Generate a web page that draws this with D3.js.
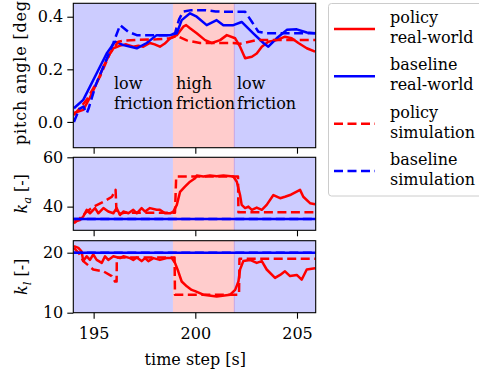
<!DOCTYPE html>
<html>
<head>
<meta charset="utf-8">
<script src="https://cdn.jsdelivr.net/npm/d3@7"></script>
<style>
  html, body { margin: 0; padding: 0; background: #fff; }
  svg { display: block; }
  svg text { font-family: "DejaVu Serif", serif; fill: #000; }
</style>
</head>
<body>
<svg id="chart" width="479" height="374"></svg>
<script>
// ---- data -------------------------------------------------------------
const xTicks = [195, 200, 205];
const frictionSpans = [
  { from: 194.0, to: 198.9, kind: "low" },
  { from: 198.9, to: 201.92, kind: "high" },
  { from: 201.92, to: 205.92, kind: "low" }
];
const frictionLabels = [
  { t: 196.0, lines: ["low", "friction"] },
  { t: 199.05, lines: ["high", "friction"] },
  { t: 202.05, lines: ["low", "friction"] }
];

// pitch angle [deg]
const pitchPolicyRealT = [194.03,194.49,194.8,195.15,195.48,195.8,195.97,196.3,196.6,196.95,197.2,197.44,197.77,198.0,198.26,198.5,198.76,199.09,199.41,199.55,199.74,200.07,200.48,200.81,201.22,201.55,201.96,202.2,202.45,202.78,203.02,203.27,203.59,204.0,204.41,204.74,205.07,205.48,205.89];
const pitchPolicyRealV = [0.034,0.046,0.09,0.147,0.21,0.26,0.28,0.29,0.295,0.286,0.29,0.286,0.30,0.295,0.286,0.298,0.318,0.33,0.362,0.368,0.356,0.337,0.311,0.30,0.311,0.33,0.318,0.286,0.242,0.248,0.26,0.286,0.305,0.311,0.324,0.318,0.30,0.28,0.267];

const pitchBaselineRealT = [194.03,194.49,195.15,195.64,196.05,196.46,197.12,197.61,198.1,198.76,199.09,199.33,199.74,200.07,200.56,201.05,201.38,201.87,202.28,202.85,203.35,203.59,204.0,204.5,204.99,205.48,205.89];
const pitchBaselineRealV = [0.052,0.084,0.185,0.26,0.305,0.292,0.28,0.30,0.33,0.33,0.337,0.387,0.413,0.40,0.368,0.387,0.368,0.368,0.38,0.337,0.30,0.286,0.318,0.35,0.352,0.34,0.337];

const pitchPolicySimT = [194.03,194.66,195.31,195.8,196.21,196.46,197.12,198.1,198.76,199.09,199.58,200.23,201.87,202.2,203.02,205.92];
const pitchPolicySimV = [0.026,0.084,0.172,0.26,0.305,0.309,0.312,0.314,0.318,0.327,0.31,0.30,0.30,0.297,0.311,0.311];

const pitchBaselineSimT = [194.03,194.3,194.5,194.66,194.75,195.1,195.48,195.97,196.3,196.7,197.12,198.76,199.0,199.2,199.4,199.8,200.5,201.0,201.5,202.45,202.78,203.1,203.5,205.92];
const pitchBaselineSimV = [0.0,0.05,0.058,0.033,0.05,0.14,0.21,0.30,0.368,0.343,0.33,0.33,0.337,0.39,0.419,0.425,0.425,0.42,0.419,0.419,0.381,0.343,0.337,0.337];

// k_a [-]
const kaPolicyRealT = [194.03,194.33,194.49,194.66,194.82,195.07,195.23,195.48,195.72,195.97,196.13,196.3,196.46,196.71,196.95,197.12,197.36,197.53,197.77,198.1,198.26,198.51,198.76,198.92,199.09,199.25,199.49,199.74,199.99,200.07,200.4,200.72,201.05,201.38,201.87,202.04,202.2,202.28,202.45,202.61,202.78,203.02,203.27,203.51,203.84,204.17,204.41,204.66,204.82,205.15,205.31,205.64,205.89];
const kaPolicyRealV = [33.9,34.6,36,38.7,37.3,39.4,37.3,39.4,38,37.3,39.4,36.6,38,37.3,38.7,37.3,39.4,38,39.4,38.7,38.7,37.3,37.3,38,40.7,46,48.1,50.1,51.5,52.6,52.2,52.6,52.3,52.6,52.2,50.1,44.7,40.7,39.4,40,38.7,39.6,38.7,40.7,44.7,43.4,44,44.7,45.4,46.8,44,41.4,41];

const kaBaselineRealT = [194.0, 205.92];
const kaBaselineRealV = [35.0, 35.0];

const kaPolicySimT = [194.03,194.3,194.6,195.0,195.5,195.9,196.08,196.13,196.5,197.5,199.0,199.06,202.1,202.12,205.92];
const kaPolicySimV = [33.3,35,37.5,40,42,44,46.8,36.8,37.5,37.5,37.5,52.2,52.2,37.7,37.7];

const kaBaselineSimT = [194.0, 205.92];
const kaBaselineSimV = [35.0, 35.0];

// k_l [-]
const klPolicyRealT = [194.03,194.25,194.41,194.49,194.66,194.82,194.98,195.15,195.4,195.56,195.72,195.97,196.3,196.46,196.79,196.95,197.12,197.36,197.53,197.69,197.94,198.26,198.59,198.84,199.0,199.16,199.33,199.58,199.82,199.99,200.39,201.05,201.71,201.96,202.12,202.2,202.36,202.69,203.02,203.27,203.51,203.92,204.17,204.41,204.66,204.99,205.23,205.48,205.89];
const klPolicyRealV = [21.1,20.8,20.2,18.6,19.4,18.8,19.7,18.8,18.3,19.4,18.8,19.4,19.1,19.4,19.1,18.8,19.2,18.6,19.1,18.6,19.1,18.8,19.1,19.1,18.3,16.9,15.2,14.4,13.8,13.6,13.0,12.7,13.0,13.8,15.2,17.2,18.6,18.8,18.3,18.6,17.2,15.8,16.3,16.9,16.1,16.3,15.5,17.2,17.4];

const klBaselineRealT = [194.0, 205.92];
const klBaselineRealV = [20.0, 20.0];

const klPolicySimT = [194.03,194.3,194.49,194.98,195.48,195.89,196.05,196.13,196.14,198.98,199.0,202.15,202.17,205.92];
const klPolicySimV = [20.8,19.8,18.6,17.2,16.9,16.1,15.2,15.2,19.2,19.2,13.0,13.0,19.0,19.0];

const klBaselineSimT = [194.0, 205.92];
const klBaselineSimV = [20.0, 20.0];

const legendItems = [
  { lines: ["policy", "real-world"], color: "#ff0000", dashed: false },
  { lines: ["baseline", "real-world"], color: "#0000ff", dashed: false },
  { lines: ["policy", "simulation"], color: "#ff0000", dashed: true },
  { lines: ["baseline", "simulation"], color: "#0000ff", dashed: true }
];

// ---- layout -------------------------------------------------------------
const FONT = "'DejaVu Serif', serif";
const FS = 16;
const svg = d3.select("#chart");
const X0 = 73.3, X1 = 315.7;
const DASH = "9,4.5";
const LW = 2.5;
const x = d3.scaleLinear().domain([194.0, 205.92]).range([X0, X1]);

const panels = [
  {
    id: "pitch", top: 3.3, bottom: 147.7, domain: [-0.098, 0.451],
    ticks: [0.0, 0.2, 0.4], fmt: d3.format(".1f"),
    series: [
      [pitchPolicyRealT, pitchPolicyRealV, "#ff0000", false],
      [pitchBaselineRealT, pitchBaselineRealV, "#0000ff", false],
      [pitchPolicySimT, pitchPolicySimV, "#ff0000", true],
      [pitchBaselineSimT, pitchBaselineSimV, "#0000ff", true]
    ]
  },
  {
    id: "ka", top: 157.3, bottom: 230.3, domain: [30.4, 60],
    ticks: [40, 60], fmt: d3.format("d"),
    series: [
      [kaPolicyRealT, kaPolicyRealV, "#ff0000", false],
      [kaBaselineRealT, kaBaselineRealV, "#0000ff", false],
      [kaPolicySimT, kaPolicySimV, "#ff0000", true],
      [kaBaselineSimT, kaBaselineSimV, "#0000ff", true]
    ]
  },
  {
    id: "kl", top: 240.7, bottom: 312.7, domain: [10, 22],
    ticks: [10, 20], fmt: d3.format("d"),
    series: [
      [klPolicyRealT, klPolicyRealV, "#ff0000", false],
      [klBaselineRealT, klBaselineRealV, "#0000ff", false],
      [klPolicySimT, klPolicySimV, "#ff0000", true],
      [klBaselineSimT, klBaselineSimV, "#0000ff", true]
    ]
  }
];

const defs = svg.append("defs");

panels.forEach((p, idx) => {
  const y = d3.scaleLinear().domain(p.domain).range([p.bottom, p.top]);
  const g = svg.append("g").attr("class", "panel-" + p.id);

  defs.append("clipPath").attr("id", "clip-" + p.id)
    .append("rect").attr("x", X0).attr("y", p.top)
    .attr("width", X1 - X0).attr("height", p.bottom - p.top);

  // friction regions
  g.selectAll("rect.span").data(frictionSpans).join("rect")
    .attr("class", "span")
    .attr("x", d => x(d.from)).attr("y", p.top)
    .attr("width", d => x(d.to) - x(d.from)).attr("height", p.bottom - p.top)
    .attr("fill", d => d.kind === "high" ? "#ffcccc" : "#ccccff");
  g.append("line")
    .attr("x1", x(201.92)).attr("x2", x(201.92))
    .attr("y1", p.top).attr("y2", p.bottom)
    .attr("stroke", "#c4a6e6").attr("stroke-width", 1);

  // region annotations in the top panel
  if (p.id === "pitch") {
    frictionLabels.forEach(lab => {
      const t = g.append("text").attr("font-size", FS);
      lab.lines.forEach((s, i) => {
        t.append("tspan").attr("x", x(lab.t)).attr("y", 88.5 + i * 20).text(s);
      });
    });
  }

  // series
  const line = d3.line().x(d => x(d[0])).y(d => y(d[1]));
  const lg = g.append("g").attr("clip-path", "url(#clip-" + p.id + ")");
  p.series.forEach(([ts, vs, color, dashed]) => {
    lg.append("path")
      .datum(ts.map((t, i) => [t, vs[i]]))
      .attr("d", line)
      .attr("fill", "none")
      .attr("stroke", color)
      .attr("stroke-width", LW)
      .attr("stroke-linejoin", "round")
      .attr("stroke-dasharray", dashed ? DASH : null);
  });

  // frame
  g.append("rect").attr("x", X0).attr("y", p.top)
    .attr("width", X1 - X0).attr("height", p.bottom - p.top)
    .attr("fill", "none").attr("stroke", "#000").attr("stroke-width", 1.1);

  // y axis
  const yAxis = d3.axisLeft(y).tickValues(p.ticks).tickFormat(p.fmt).tickSize(6).tickPadding(4);
  const ya = g.append("g").attr("transform", `translate(${X0},0)`).call(yAxis)
    .attr("font-size", FS);
  ya.select(".domain").remove();
  ya.selectAll("line").attr("stroke", "#000").attr("stroke-width", 1.1);

  // x axis (labels only on the lowest panel)
  const xAxis = d3.axisBottom(x).tickValues(xTicks).tickSize(6).tickPadding(9)
    .tickFormat(idx === panels.length - 1 ? d3.format("d") : () => "");
  const xa = g.append("g").attr("transform", `translate(0,${p.bottom})`).call(xAxis)
    .attr("font-size", FS);
  xa.select(".domain").remove();
  xa.selectAll("line").attr("stroke", "#000").attr("stroke-width", 1.1);
});

// axis titles
svg.append("text")
  .attr("transform", "translate(26,145) rotate(-90)")
  .attr("text-anchor", "start")
  .attr("font-size", FS)
  .attr("textLength", 151).attr("lengthAdjust", "spacing")
  .text("pitch angle [deg]");

function kLabel(sub, cy) {
  const t = svg.append("text")
    .attr("transform", `translate(27,${cy}) rotate(-90)`)
    .attr("text-anchor", "middle")
    .attr("font-size", FS);
  t.append("tspan").attr("font-style", "italic").text("k");
  t.append("tspan").attr("font-style", "italic").attr("font-size", 11.5)
    .attr("dy", 3.5).text(sub);
  t.append("tspan").attr("dy", -3.5).text(" [-]");
}
kLabel("a", 193.8);
kLabel("l", 276.7);

svg.append("text")
  .attr("x", x(200)).attr("y", 365)
  .attr("text-anchor", "middle")
  .attr("font-size", FS)
  .text("time step [s]");

// legend
const leg = svg.append("g").attr("class", "legend");
leg.append("rect")
  .attr("x", 328.5).attr("y", 3.5).attr("width", 170).attr("height", 192.5)
  .attr("rx", 3).attr("fill", "#fff").attr("fill-opacity", 0.8)
  .attr("stroke", "#cccccc").attr("stroke-width", 1);
const legendY = d3.scalePoint().domain(d3.range(legendItems.length)).range([29, 171]);
legendItems.forEach((item, i) => {
  const cy = legendY(i);
  leg.append("line")
    .attr("x1", 334).attr("x2", 375).attr("y1", cy).attr("y2", cy)
    .attr("stroke", item.color).attr("stroke-width", LW)
    .attr("stroke-dasharray", item.dashed ? DASH : null);
  const t = leg.append("text").attr("font-size", FS);
  item.lines.forEach((s, j) => {
    t.append("tspan").attr("x", 390).attr("y", cy - 6 + j * 20).text(s);
  });
});

// one serif face for every label
svg.selectAll("text").style("font-family", FONT);
</script>
</body>
</html>
